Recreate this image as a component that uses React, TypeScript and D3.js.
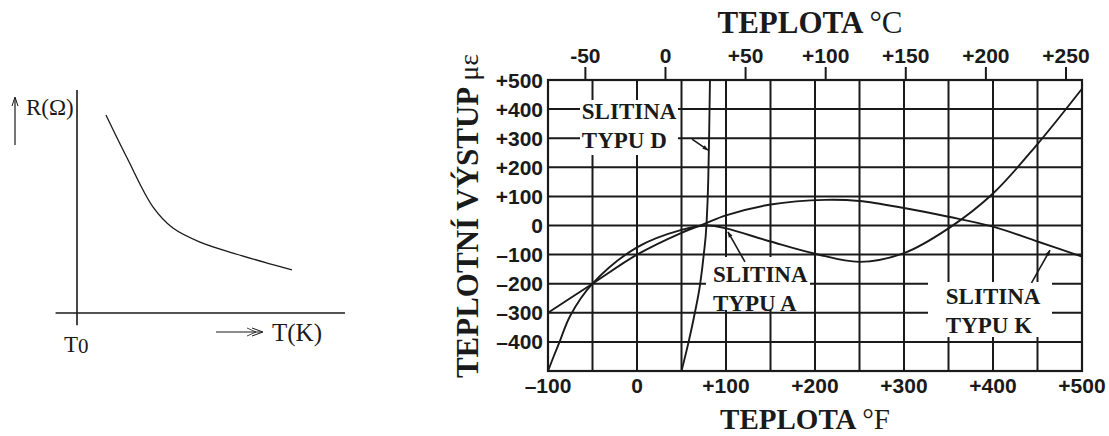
import React from "react";
import * as d3 from "d3";

// ---- left sketch: R(T) curve, arbitrary units ----
const rtT = [1.08, 1.87, 2.84, 3.58, 4.59, 5.82, 7.09, 8.02];
const rtR = [8.88, 6.95, 4.75, 3.81, 3.18, 2.69, 2.24, 1.93];

// ---- right chart: thermal output (µε) vs temperature (°F) ----
const fTicks = [-100, 0, 100, 200, 300, 400, 500];
const cTicks = [-50, 0, 50, 100, 150, 200, 250];
const eTicks = [500, 400, 300, 200, 100, 0, -100, -200, -300, -400];

const alloyA_F = [-100, -93, -87, -75, -50, 0, 50, 80, 100, 150, 200, 250, 300, 350, 400, 450, 500];
const alloyA_E = [-500, -445, -400, -310, -200, -75, -15, 0, -10, -55, -97, -125, -95, -10, 110, 280, 470];

const alloyK_F = [-100, -50, 0, 50, 75, 100, 150, 212, 250, 300, 350, 400, 450, 500];
const alloyK_E = [-300, -200, -100, -25, 5, 35, 72, 88, 84, 60, 30, -4, -55, -107];

const alloyD_F = [50, 58, 65, 71, 75, 78, 80, 81, 82];
const alloyD_E = [-500, -400, -300, -200, -100, 0, 150, 300, 500];

const labels = [
  { l1: "SLITINA", l2: "TYPU D", f: -62, e: 366, box: [580, 100, 98, 55] },
  { l1: "SLITINA", l2: "TYPU A", f: 85.4, e: -194, box: [706, 257, 104, 53] },
  { l1: "SLITINA", l2: "TYPU K", f: 347, e: -270, box: [928, 282, 124, 55] },
];

const arrows = [
  { f0: 61.8, e0: 297, f1: 79.8, e1: 259 },
  { f0: 121.3, e0: -125, f1: 102.2, e1: -22 },
  { f0: 443.3, e0: -197, f1: 464, e1: -85 },
];

const serif = "'Liberation Serif', 'Times New Roman', serif";
const sans = "'Liberation Sans', Arial, sans-serif";
const ink = "#1a1a1a";

const fmt = (v: number) => (v > 0 ? "+" + v : v < 0 ? "–" + Math.abs(v) : "0");

export default function App() {
  // left sketch scales
  const xL = d3.scaleLinear().domain([0, 10]).range([77, 345]);
  const yL = d3.scaleLinear().domain([0, 10]).range([313, 90]);
  const rtLine = d3
    .line<number>()
    .x((d, i) => xL(rtT[i]))
    .y((d) => yL(d))
    .curve(d3.curveCatmullRom);

  // main chart scales
  const x = d3.scaleLinear().domain([-100, 500]).range([548, 1082]);
  const y = d3.scaleLinear().domain([-500, 500]).range([371, 80]);
  const c2f = (c: number) => (c * 9) / 5 + 32;

  const mk = (fs: number[], es: number[], curve: d3.CurveFactory) =>
    d3
      .line<number>()
      .x((d, i) => x(fs[i]))
      .y((d) => y(d))
      .curve(curve)(es) as string;

  const vGrid = d3.range(-50, 500, 50);
  const hGrid = d3.range(-400, 500, 100);

  return (
    <svg
      width={1109}
      height={436}
      style={{ position: "absolute", left: 0, top: 0, background: "#fff" }}
    >
      <defs>
        <marker
          id="ah"
          viewBox="0 0 10 10"
          refX="9"
          refY="5"
          markerWidth="9"
          markerHeight="6"
          orient="auto"
          markerUnits="userSpaceOnUse"
        >
          <path d="M0,1.5 L10,5 L0,8.5 Z" fill={ink} />
        </marker>
      </defs>

      {/* ---------- left sketch ---------- */}
      <g stroke={ink} fill="none">
        <line x1={xL(0)} x2={xL(0)} y1={yL(10)} y2={yL(-0.55)} strokeWidth={1.6} />
        <line x1={xL(-0.8)} x2={xL(10)} y1={yL(0)} y2={yL(0)} strokeWidth={1.6} />
        <path d={rtLine(rtR) as string} strokeWidth={1.3} />
        {/* up arrow near R */}
        <line x1={15} x2={15} y1={145} y2={98} strokeWidth={1.2} />
        <path d="M12,106 L15,97 L18,106" strokeWidth={1} />
        {/* right arrow near T */}
        <line x1={216} x2={262} y1={332} y2={332} strokeWidth={1.2} />
        <path d="M252,328 L263,332 L252,336" strokeWidth={1} />
        <path d="M247,328 L256,332 L247,336" strokeWidth={0.8} />
      </g>
      <g fontFamily={serif} fill={ink}>
        <text x={26} y={115} fontSize={23}>R(Ω)</text>
        <text x={64} y={352} fontSize={23}>T<tspan fontSize={21} dy={1}>0</tspan></text>
        <text x={272} y={341} fontSize={25}>T(K)</text>
      </g>

      {/* ---------- main chart ---------- */}
      <g stroke={ink} strokeWidth={2}>
        {vGrid.map((f) => (
          <line key={"v" + f} x1={x(f)} x2={x(f)} y1={y(500)} y2={y(-500)} />
        ))}
        {hGrid.map((e) => (
          <line key={"h" + e} x1={x(-100)} x2={x(500)} y1={y(e)} y2={y(e)} />
        ))}
        {/* top °C ticks */}
        {cTicks.map((c) => (
          <line key={"c" + c} x1={x(c2f(c))} x2={x(c2f(c))} y1={y(500) - 13} y2={y(500)} />
        ))}
      </g>

      {/* white label boxes */}
      {labels.map((lb, i) => (
        <rect key={"b" + i} x={lb.box[0]} y={lb.box[1]} width={lb.box[2]} height={lb.box[3]} fill="#fff" />
      ))}

      {/* frame */}
      <rect
        x={x(-100)}
        y={y(500)}
        width={x(500) - x(-100)}
        height={y(-500) - y(500)}
        fill="none"
        stroke={ink}
        strokeWidth={2.2}
      />

      {/* curves */}
      <g fill="none" stroke={ink} strokeWidth={1.9}>
        <path d={mk(alloyA_F, alloyA_E, d3.curveCatmullRom.alpha(0.5))} />
        <path d={mk(alloyK_F, alloyK_E, d3.curveCatmullRom.alpha(0.5))} />
        <path d={mk(alloyD_F, alloyD_E, d3.curveMonotoneX)} />
      </g>

      {/* arrows */}
      <g stroke={ink} strokeWidth={1.6}>
        {arrows.map((a, i) => (
          <line key={"a" + i} x1={x(a.f0)} y1={y(a.e0)} x2={x(a.f1)} y2={y(a.e1)} markerEnd="url(#ah)" />
        ))}
      </g>

      {/* alloy labels */}
      <g fontFamily={serif} fontWeight="bold" fontSize={23} fill={ink}>
        {labels.map((lb, i) => (
          <g key={"l" + i}>
            <text x={x(lb.f)} y={y(lb.e)}>{lb.l1}</text>
            <text x={x(lb.f)} y={y(lb.e) + 29}>{lb.l2}</text>
          </g>
        ))}
      </g>

      {/* tick labels */}
      <g fontFamily={sans} fontWeight="bold" fontSize={21} fill={ink}>
        {eTicks.map((e) => (
          <text key={"et" + e} x={543} y={y(e)} dy="0.36em" textAnchor="end">
            {fmt(e)}
          </text>
        ))}
        {fTicks.map((f) => (
          <text key={"ft" + f} x={x(f)} y={393} textAnchor="middle">
            {fmt(f)}
          </text>
        ))}
        {cTicks.map((c) => (
          <text key={"ct" + c} x={x(c2f(c))} y={63} textAnchor="middle">
            {c > 0 ? "+" + c : c < 0 ? "-" + Math.abs(c) : "0"}
          </text>
        ))}
      </g>

      {/* axis titles */}
      <g fontFamily={serif} fontWeight="bold" fill={ink}>
        <text x={810} y={33} fontSize={31} textAnchor="middle">
          TEPLOTA <tspan fontWeight="normal">°C</tspan>
        </text>
        <text x={805} y={429} fontSize={29} textAnchor="middle">
          TEPLOTA <tspan fontWeight="normal">°F</tspan>
        </text>
        <text
          transform="translate(478,216) rotate(-90)"
          fontSize={31}
          textAnchor="middle"
        >
          TEPLOTNÍ VÝSTUP <tspan fontWeight="normal" fontSize={28}>με</tspan>
        </text>
      </g>
    </svg>
  );
}
